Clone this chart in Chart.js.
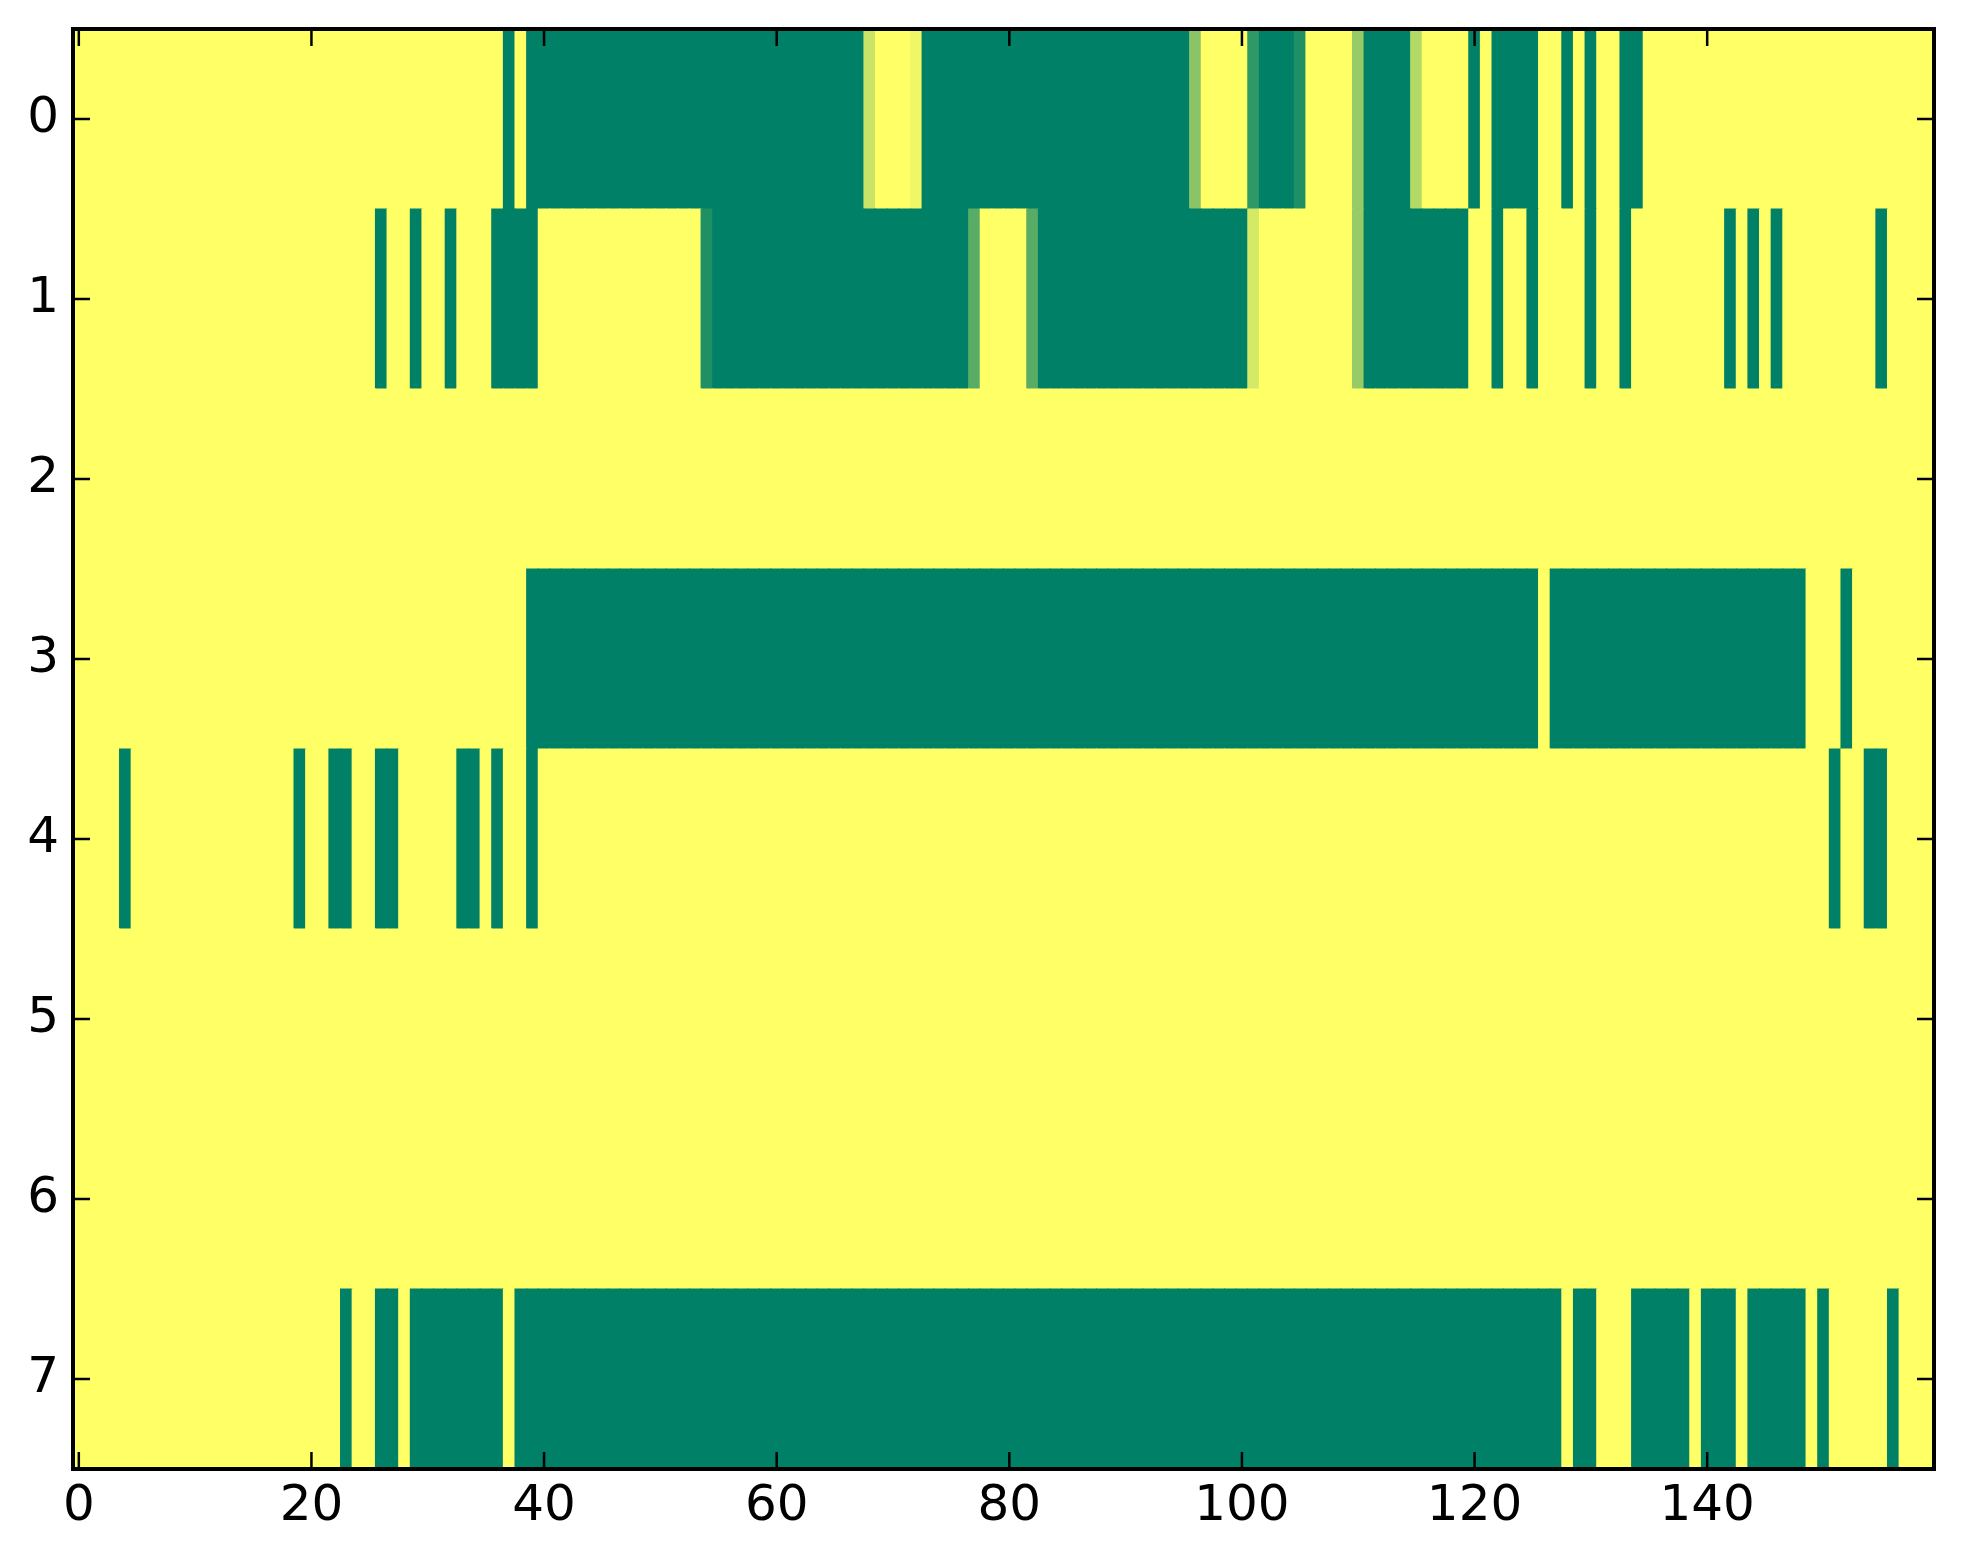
<!DOCTYPE html>
<html>
<head>
<meta charset="utf-8">
<script src="https://cdn.jsdelivr.net/npm/chart.js@4.4.1/dist/chart.umd.min.js"></script>
<style>
  html, body { margin: 0; padding: 0; background: #fff; }
  canvas { display: block; }
</style>
</head>
<body>
<canvas id="HeatChart" width="1963" height="1564"></canvas>
<script>
// row labels (top to bottom) and x tick labels
const rowLabels = ['0', '1', '2', '3', '4', '5', '6', '7'];
const xTicks = [0, 20, 40, 60, 80, 100, 120, 140];
const colCount = 160;

// cell values per row, columns 0..159 (0 = green, 1 = yellow)
const row0 = [
  1,1,1,1,1,1,1,1,1,1,1,1,1,1,1,1,1,1,1,1,
  1,1,1,1,1,1,1,1,1,1,1,1,1,1,1,1,1,0,1,0,
  0,0,0,0,0,0,0,0,0,0,0,0,0,0,0,0,0,0,0,0,
  0,0,0,0,0,0,0,0,.79,1,1,1,.94,0,0,0,0,0,0,0,
  0,0,0,0,0,0,0,0,0,0,0,0,0,0,0,0,.54,1,1,1,
  1,.19,0,0,0,.12,1,1,1,1,.59,0,0,0,0,.7,1,1,1,1,
  0,1,0,0,0,0,1,1,0,1,0,1,1,0,0,1,1,1,1,1,
  1,1,1,1,1,1,1,1,1,1,1,1,1,1,1,1,1,1,1,1
];
const row1 = [
  1,1,1,1,1,1,1,1,1,1,1,1,1,1,1,1,1,1,1,1,
  1,1,1,1,1,1,0,1,1,0,1,1,0,1,1,1,0,0,0,0,
  1,1,1,1,1,1,1,1,1,1,1,1,1,1,.12,0,0,0,0,0,
  0,0,0,0,0,0,0,0,0,0,0,0,0,0,0,0,0,.35,1,1,
  1,1,.35,0,0,0,0,0,0,0,0,0,0,0,0,0,0,0,0,0,
  0,.83,1,1,1,1,1,1,1,1,.59,0,0,0,0,0,0,0,0,0,
  1,1,0,1,1,0,1,1,1,1,0,1,1,0,1,1,1,1,1,1,
  1,1,0,1,0,1,0,1,1,1,1,1,1,1,1,0,1,1,1,1
];
const row2 = [
  1,1,1,1,1,1,1,1,1,1,1,1,1,1,1,1,1,1,1,1,
  1,1,1,1,1,1,1,1,1,1,1,1,1,1,1,1,1,1,1,1,
  1,1,1,1,1,1,1,1,1,1,1,1,1,1,1,1,1,1,1,1,
  1,1,1,1,1,1,1,1,1,1,1,1,1,1,1,1,1,1,1,1,
  1,1,1,1,1,1,1,1,1,1,1,1,1,1,1,1,1,1,1,1,
  1,1,1,1,1,1,1,1,1,1,1,1,1,1,1,1,1,1,1,1,
  1,1,1,1,1,1,1,1,1,1,1,1,1,1,1,1,1,1,1,1,
  1,1,1,1,1,1,1,1,1,1,1,1,1,1,1,1,1,1,1,1
];
const row3 = [
  1,1,1,1,1,1,1,1,1,1,1,1,1,1,1,1,1,1,1,1,
  1,1,1,1,1,1,1,1,1,1,1,1,1,1,1,1,1,1,1,0,
  0,0,0,0,0,0,0,0,0,0,0,0,0,0,0,0,0,0,0,0,
  0,0,0,0,0,0,0,0,0,0,0,0,0,0,0,0,0,0,0,0,
  0,0,0,0,0,0,0,0,0,0,0,0,0,0,0,0,0,0,0,0,
  0,0,0,0,0,0,0,0,0,0,0,0,0,0,0,0,0,0,0,0,
  0,0,0,0,0,0,1,0,0,0,0,0,0,0,0,0,0,0,0,0,
  0,0,0,0,0,0,0,0,0,1,1,1,0,1,1,1,1,1,1,1
];
const row4 = [
  1,1,1,1,0,1,1,1,1,1,1,1,1,1,1,1,1,1,1,0,
  1,1,0,0,1,1,0,0,1,1,1,1,1,0,0,1,0,1,1,0,
  1,1,1,1,1,1,1,1,1,1,1,1,1,1,1,1,1,1,1,1,
  1,1,1,1,1,1,1,1,1,1,1,1,1,1,1,1,1,1,1,1,
  1,1,1,1,1,1,1,1,1,1,1,1,1,1,1,1,1,1,1,1,
  1,1,1,1,1,1,1,1,1,1,1,1,1,1,1,1,1,1,1,1,
  1,1,1,1,1,1,1,1,1,1,1,1,1,1,1,1,1,1,1,1,
  1,1,1,1,1,1,1,1,1,1,1,0,1,1,0,0,1,1,1,1
];
const row5 = [
  1,1,1,1,1,1,1,1,1,1,1,1,1,1,1,1,1,1,1,1,
  1,1,1,1,1,1,1,1,1,1,1,1,1,1,1,1,1,1,1,1,
  1,1,1,1,1,1,1,1,1,1,1,1,1,1,1,1,1,1,1,1,
  1,1,1,1,1,1,1,1,1,1,1,1,1,1,1,1,1,1,1,1,
  1,1,1,1,1,1,1,1,1,1,1,1,1,1,1,1,1,1,1,1,
  1,1,1,1,1,1,1,1,1,1,1,1,1,1,1,1,1,1,1,1,
  1,1,1,1,1,1,1,1,1,1,1,1,1,1,1,1,1,1,1,1,
  1,1,1,1,1,1,1,1,1,1,1,1,1,1,1,1,1,1,1,1
];
const row6 = [
  1,1,1,1,1,1,1,1,1,1,1,1,1,1,1,1,1,1,1,1,
  1,1,1,1,1,1,1,1,1,1,1,1,1,1,1,1,1,1,1,1,
  1,1,1,1,1,1,1,1,1,1,1,1,1,1,1,1,1,1,1,1,
  1,1,1,1,1,1,1,1,1,1,1,1,1,1,1,1,1,1,1,1,
  1,1,1,1,1,1,1,1,1,1,1,1,1,1,1,1,1,1,1,1,
  1,1,1,1,1,1,1,1,1,1,1,1,1,1,1,1,1,1,1,1,
  1,1,1,1,1,1,1,1,1,1,1,1,1,1,1,1,1,1,1,1,
  1,1,1,1,1,1,1,1,1,1,1,1,1,1,1,1,1,1,1,1
];
const row7 = [
  1,1,1,1,1,1,1,1,1,1,1,1,1,1,1,1,1,1,1,1,
  1,1,1,0,1,1,0,0,1,0,0,0,0,0,0,0,0,1,0,0,
  0,0,0,0,0,0,0,0,0,0,0,0,0,0,0,0,0,0,0,0,
  0,0,0,0,0,0,0,0,0,0,0,0,0,0,0,0,0,0,0,0,
  0,0,0,0,0,0,0,0,0,0,0,0,0,0,0,0,0,0,0,0,
  0,0,0,0,0,0,0,0,0,0,0,0,0,0,0,0,0,0,0,0,
  0,0,0,0,0,0,0,0,1,0,0,1,1,1,0,0,0,0,0,1,
  0,0,0,1,0,0,0,0,0,1,0,1,1,1,1,1,0,1,1,1
];
const rows = [row0, row1, row2, row3, row4, row5, row6, row7];

// matplotlib "summer" colormap
function summer(v) {
  const r = Math.round(255 * v);
  const g = Math.round(255 * (0.5 + 0.5 * v));
  return 'rgb(' + r + ',' + g + ',102)';
}

const cells = [];
rows.forEach((vals, r) => {
  vals.forEach((v, c) => {
    cells.push({ x: [c - 0.5, c + 0.5], y: rowLabels[r], v: v });
  });
});

const frameAndTicks = {
  id: 'frameAndTicks',
  afterDraw(chart) {
    const { ctx, chartArea: a, scales } = chart;
    const tl = 17;
    ctx.save();
    ctx.strokeStyle = '#000';
    ctx.lineWidth = 2.5;
    ctx.beginPath();
    scales.x.ticks.forEach((t) => {
      const px = scales.x.getPixelForValue(t.value);
      ctx.moveTo(px, a.bottom); ctx.lineTo(px, a.bottom - tl);
      ctx.moveTo(px, a.top); ctx.lineTo(px, a.top + tl);
    });
    scales.y.ticks.forEach((t, i) => {
      const py = scales.y.getPixelForTick(i);
      ctx.moveTo(a.left, py); ctx.lineTo(a.left + tl, py);
      ctx.moveTo(a.right, py); ctx.lineTo(a.right - tl, py);
    });
    ctx.stroke();
    ctx.lineWidth = 4;
    ctx.strokeRect(a.left, a.top, a.right - a.left, a.bottom - a.top);
    ctx.restore();
  }
};

const htx = document.getElementById('HeatChart');

new Chart(htx, {
  type: 'bar',
  data: {
    labels: rowLabels,
    datasets: [{
      data: cells,
      backgroundColor: (c) => summer(c.raw.v),
      borderWidth: 0,
      barPercentage: 1,
      categoryPercentage: 1,
      inflateAmount: 0.5
    }]
  },
  options: {
    indexAxis: 'y',
    responsive: false,
    animation: false,
    events: [],
    layout: { padding: { top: 29, right: 29, left: 0, bottom: 0 } },
    plugins: { legend: { display: false }, tooltip: { enabled: false } },
    scales: {
      x: {
        type: 'linear',
        min: -0.5,
        max: colCount - 0.5,
        afterBuildTicks: (axis) => { axis.ticks = xTicks.map((v) => ({ value: v })); },
        afterFit: (axis) => {
          axis.height = 95;
          axis.paddingLeft = 0;
          axis.paddingRight = 0;
        },
        grid: { display: false, drawTicks: false },
        border: { display: false },
        ticks: {
          color: '#000',
          padding: 8,
          maxRotation: 0,
          font: { family: 'DejaVu Sans', size: 50 }
        }
      },
      y: {
        type: 'category',
        afterFit: (axis) => {
          axis.width = 73;
          axis.paddingTop = 0;
          axis.paddingBottom = 0;
        },
        grid: { display: false, drawTicks: false },
        border: { display: false },
        ticks: {
          color: '#000',
          padding: 14,
          autoSkip: false,
          font: { family: 'DejaVu Sans', size: 50 }
        }
      }
    }
  },
  plugins: [frameAndTicks]
});
</script>
</body>
</html>
